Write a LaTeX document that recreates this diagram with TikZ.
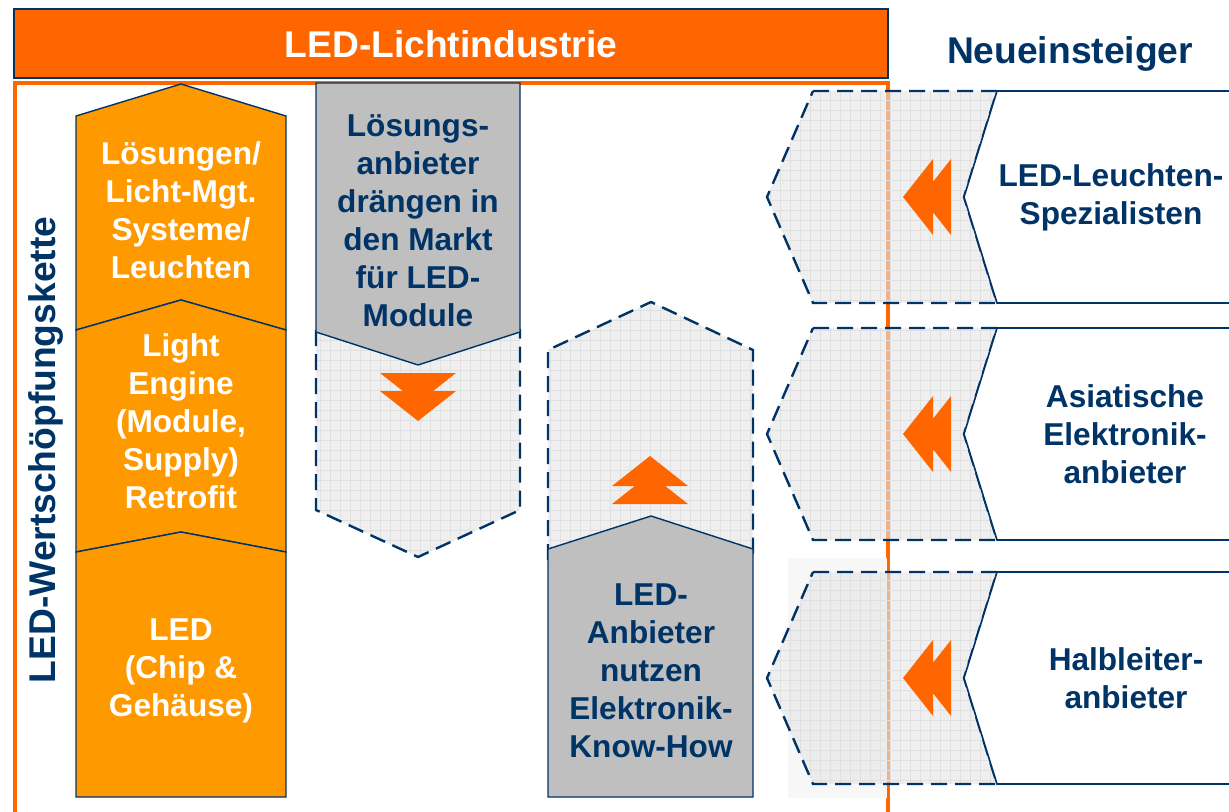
\documentclass[tikz,border=0pt]{standalone}
\usepackage{fontspec}
\setmainfont{Liberation Sans}
\definecolor{Marine}{RGB}{0,51,102}
\definecolor{Balken}{RGB}{255,102,0}
\definecolor{Kette}{RGB}{255,153,0}
\definecolor{Grau}{RGB}{191,191,191}
\tikzset{
Glied/.style={
 fill=Kette, 
 draw=Marine, 
 line width=0.7pt
 },
GrauForm/.style={
 fill=Grau, 
 draw=Marine, 
 line width=0.7pt
 },
Gestrichelt/.style={
 fill=black!10, 
 fill opacity=0.6,
 path picture={\draw[black!12, line width=0.3pt, step=5pt] (path picture bounding box.south west) grid (path picture bounding box.north east);},
 postaction={draw=Marine, line width=1.2pt, dash pattern=on 8pt off 4pt}
 },
Weiss/.style={
 fill=white, 
 draw=Marine, 
 line width=0.8pt
 },
WText/.style={
 text=white, 
 font=\fontsize{15.8}{19}\selectfont\bfseries, 
 align=center
 },
BText/.style={
 text=Marine, 
 font=\fontsize{15.8}{19}\selectfont\bfseries, 
 align=center
 },
GrossText/.style={
 font=\fontsize{18.6}{22}\selectfont\bfseries
 },
DPfeil/.pic={
 \fill[Balken] (0,0) -- (-38,30) -- (38,30) -- cycle
  (0,18) -- (-38,48) -- (38,48) -- cycle;
 }
}

\begin{document}
\begin{tikzpicture}[x=0.5pt,y=-0.5pt]
\useasboundingbox (0,0) rectangle (1229,812);
% Kopfbalken und Rahmen
\draw[fill=Balken, draw=Marine, line width=0.7pt] (14,9) rectangle (888,78);
\node[GrossText, text=white] (industrie) at (451,44) {LED-Lichtindustrie};
\draw[Balken, line width=1.6pt] (15,820) -- (15,83) -- (888,83) -- (888,820);
\fill[black!3] (788,558) rectangle (887,798);
% Wertschoepfungskette
\draw[Glied] (76,116) -- (181,84) -- (286,116) -- (286,330) -- (181,300) -- (76,330) -- cycle;
\draw[Glied] (76,330) -- (181,300) -- (286,330) -- (286,552) -- (181,532) -- (76,552) -- cycle;
\draw[Glied] (76,552) -- (181,532) -- (286,552) -- (286,797) -- (76,797) -- cycle;
\node[WText] (loesungen) at (181,210) {Lösungen/\\Licht-Mgt.\\Systeme/\\Leuchten};
\node[WText] (engine) at (181,421) {Light\\Engine\\(Module,\\Supply)\\Retrofit};
\node[WText] (chip) at (181,671) {LED\\(Chip \&\\Gehäuse)};
\node[GrossText, text=Marine, rotate=90] (kette) at (46,450) {LED-Wertschöpfungskette};
% Loesungsanbieter
\path[Gestrichelt] (316,330) -- (316,510) -- (418,557) -- (520,510) -- (520,330) -- cycle;
\draw[GrauForm] (316,83) -- (520,83) -- (520,332) -- (418,365) -- (316,332) -- cycle;
\pic[rotate=180] at (418,421) {DPfeil};
\node[BText] (anbieter) at (418,221) {Lösungs-\\anbieter\\drängen in\\den Markt\\für LED-\\Module};
% LED-Anbieter
\path[Gestrichelt] (548,560) -- (548,350) -- (651,302) -- (753,350) -- (753,560) -- cycle;
\draw[GrauForm] (548,549) -- (651,516) -- (753,549) -- (753,797) -- (548,797) -- cycle;
\pic at (650,456) {DPfeil};
\node[BText] (nutzen) at (651,671) {LED-\\Anbieter\\nutzen\\Elektronik-\\Know-How};
% Neueinsteiger
\node[GrossText, text=Marine] (neu) at (1070,54) {Neueinsteiger};
\foreach \cy/\tx/\name/\txt in {197/1111/spezial/{LED-Leuchten-\\Spezialisten},
 434/1125/asien/{Asiatische\\Elektronik-\\anbieter},
 678/1126/halbleiter/{Halbleiter-\\anbieter}}{
 \path[Gestrichelt] (813,\cy-106) -- (997,\cy-106) -- (964,\cy) -- (997,\cy+106) -- (813,\cy+106) -- (767,\cy) -- cycle;
 \draw[Weiss] (1240,\cy-106) -- (997,\cy-106) -- (964,\cy) -- (997,\cy+106) -- (1240,\cy+106);
 \pic[rotate=90] at (903,\cy) {DPfeil};
 \node[BText] (\name) at (\tx,\cy) {\txt};
}
\end{tikzpicture}
\end{document}
